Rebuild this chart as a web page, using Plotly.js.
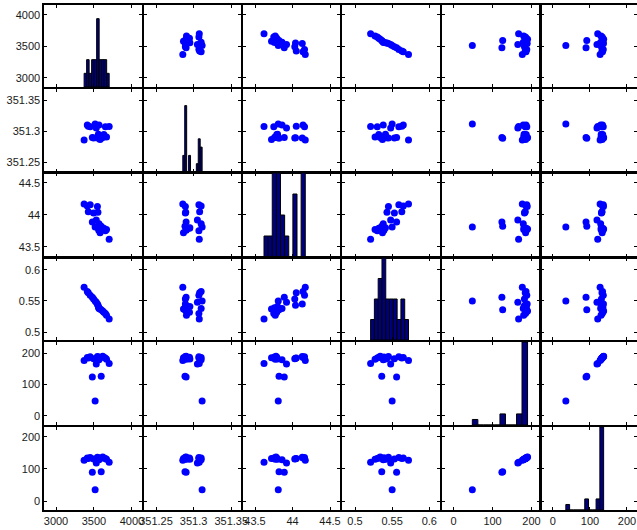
<!DOCTYPE html>
<html><head><meta charset="utf-8">
<script src="https://cdn.plot.ly/plotly-3.0.1.min.js"></script>
<style>html,body{margin:0;padding:0;background:#fff}#chart{width:637px;height:530px}</style>
</head><body><div id="chart"></div>
<script>
const varA = [3370, 3412, 3425, 3450, 3478, 3495, 3515, 3530, 3545, 3552, 3558, 3562, 3566, 3580, 3595, 3615, 3630, 3650, 3665, 3700];
const varB = [351.2856, 351.3100, 351.3080, 351.3070, 351.2900, 351.2890, 351.3113, 351.3050, 351.2890, 351.2895, 351.2950, 351.2900, 351.3100, 351.2865, 351.2885, 351.2900, 351.2945, 351.3070, 351.2905, 351.3075];
const varC = [44.17, 44.14, 44.05, 44.16, 43.89, 44.03, 43.81, 43.92, 44.13, 44.04, 43.80, 43.76, 43.86, 43.72, 43.82, 43.78, 43.79, 43.75, 43.77, 43.62];
const varD = [0.572, 0.565, 0.563, 0.559, 0.556, 0.553, 0.550, 0.548, 0.545, 0.543, 0.541, 0.539, 0.538, 0.537, 0.536, 0.534, 0.532, 0.530, 0.527, 0.521];
const varE = [176.5, 186, 184, 188, 124, 182, 48, 165, 189, 183, 181, 187, 179, 185, 126, 190, 186.5, 184.5, 180, 167];
const varF = [127.5, 134, 132.5, 136, 89.5, 131, 35, 119, 136.5, 132, 130.5, 135, 129, 133, 91.5, 137, 134.5, 133, 130, 121];

// Tick values / labels for each variable
const tickVals = [[3000,3500,4000],[351.25,351.3,351.35],[43.5,44,44.5],[0.5,0.55,0.6],[0,100,200],[0,100,200]];
const tickText = [["3000","3500","4000"],["351.25","351.3","351.35"],["43.5","44","44.5"],["0.5","0.55","0.6"],["0","100","200"],["0","100","200"]];

const vars = [varA, varB, varC, varD, varE, varF];
const N = 6, W = 637, H = 530, NBINS = 10;

// panel geometry in pixels
const colPx = [[44,142],[144,241],[243,340],[342,440],[442,540],[541,637]];
const rowPx = [[5,87],[89,172],[173,257],[258,340],[342,425],[427,510]];
// axis ranges (x for column, y for row)
const xRng = [[2842,4132],[351.234,351.363],[43.34,44.633],[0.4825,0.6144],[-30,222],[-32,227]];
const yRng = [[2852,4159],[351.2344,351.3677],[43.34,44.656],[0.4873,0.619],[-28.6,235],[-28,231]];
const histTop = [6,10,4,4,15,15];

const font = {family:'Liberation Sans, Arial, sans-serif', size:11, color:'#1a1a1a'};
const layout = {width:W, height:H, margin:{l:0,r:0,t:0,b:0}, showlegend:false,
  paper_bgcolor:'#fff', plot_bgcolor:'#fff', font:font};
const traces = [];

function axBase(){
  return {showline:true, linecolor:'#000', linewidth:1.6, mirror:'ticks', ticks:'inside', ticklen:3,
    tickcolor:'#000', tickwidth:1, showgrid:false, zeroline:false, fixedrange:true, tickfont:font,
    ticklabeloverflow:'allow'};
}

for (let r=0;r<N;r++){
  for (let c=0;c<N;c++){
    const k = r*N+c+1;
    const xa = Object.assign(axBase(), {domain:[colPx[c][0]/W, colPx[c][1]/W], range:xRng[c], anchor:'y'+k,
      tickvals:tickVals[c], ticktext:tickText[c], showticklabels:(r===N-1)});
    const ya = Object.assign(axBase(), {domain:[1-rowPx[r][1]/H, 1-rowPx[r][0]/H], range:yRng[r], anchor:'x'+k,
      tickvals:tickVals[r], ticktext:tickText[r], showticklabels:(c===0)});
    if (r===c){
      // histogram cell: y axis in counts; variable ticks placed at their equivalent heights
      const lo = yRng[r][0], hi = yRng[r][1], top = histTop[c];
      ya.range = [0, top];
      ya.tickvals = tickVals[r].map(v => (v-lo)/(hi-lo)*top);
      const d = vars[c];
      const mn = Math.min(...d), mx = Math.max(...d), w = (mx-mn)/NBINS;
      const counts = new Array(NBINS).fill(0);
      d.forEach(v=>{ let i = Math.floor((v-mn)/w + 1e-9); if(i>=NBINS) i=NBINS-1; if(i<0) i=0; counts[i]++; });
      const centers = counts.map((_,i)=>mn+(i+0.5)*w);
      traces.push({type:'bar', x:centers, y:counts, width:w, xaxis:'x'+k, yaxis:'y'+k,
        marker:{color:'#00007f', line:{color:'#000', width:1}}, hoverinfo:'skip'});
    } else {
      traces.push({type:'scatter', mode:'markers', x:vars[c], y:vars[r], xaxis:'x'+k, yaxis:'y'+k,
        marker:{color:'#0000ff', size:7, line:{width:0}}, hoverinfo:'skip'});
    }
    layout['xaxis'+k] = xa;
    layout['yaxis'+k] = ya;
  }
}
Plotly.newPlot('chart', traces, layout, {displayModeBar:false, staticPlot:true});
</script></body></html>
